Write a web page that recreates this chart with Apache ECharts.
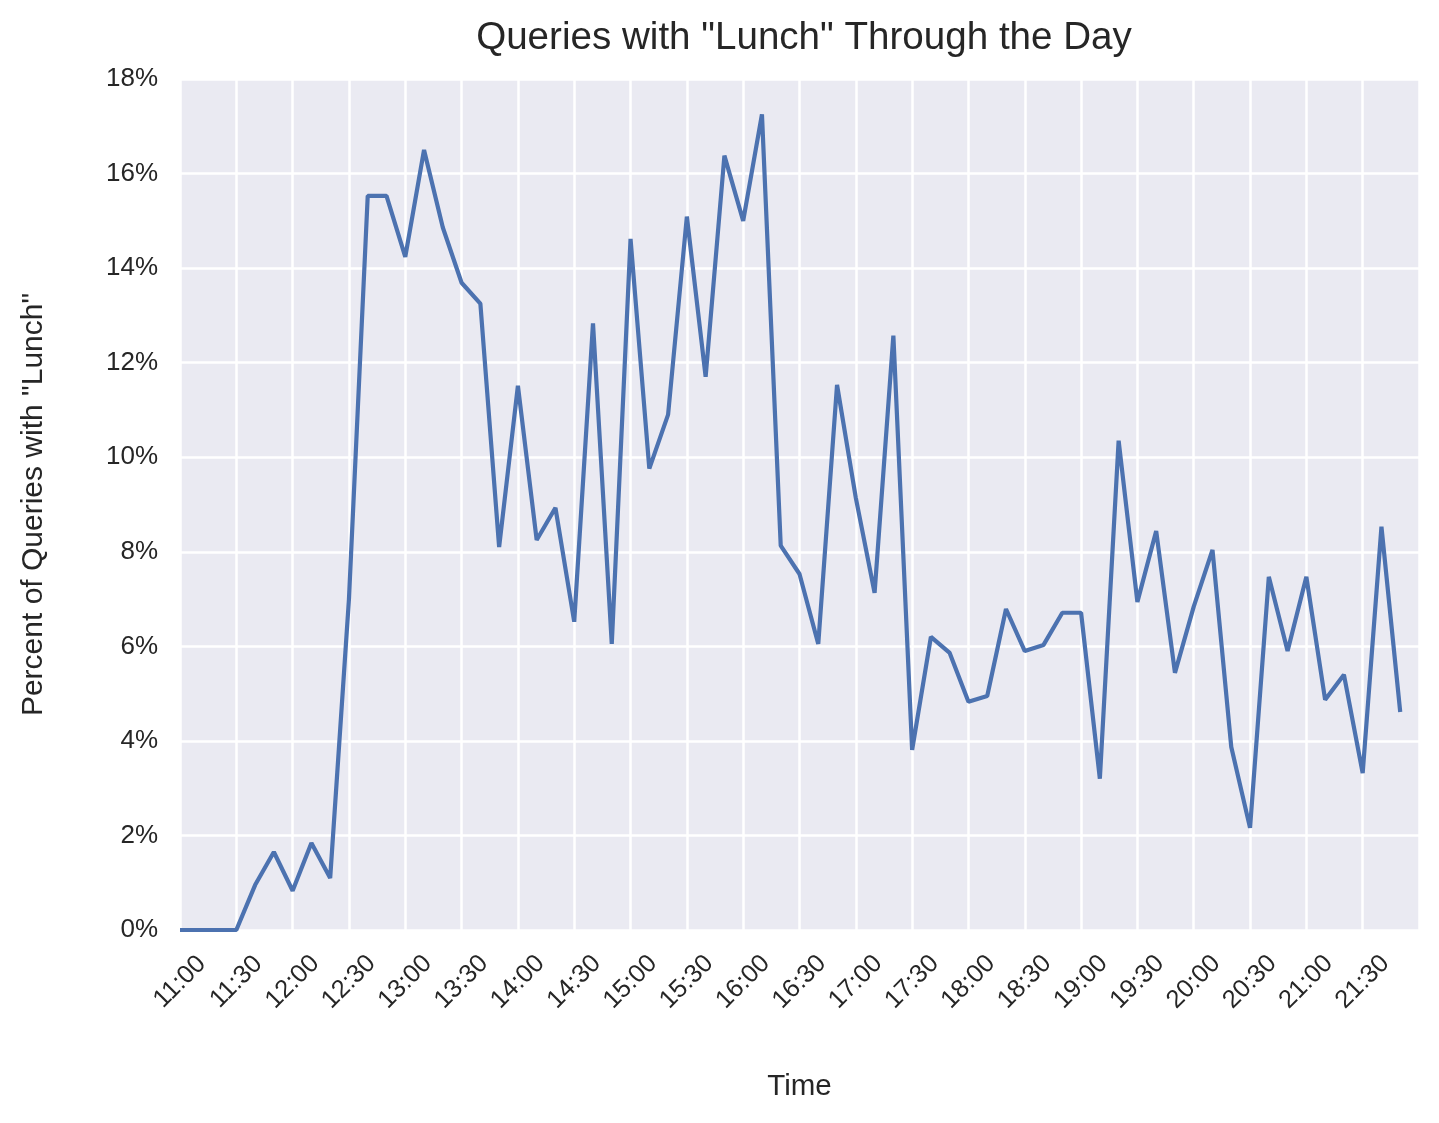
<!DOCTYPE html>
<html>
<head>
<meta charset="utf-8">
<title>Queries with "Lunch" Through the Day</title>
<script src="https://cdn.jsdelivr.net/npm/echarts@6/dist/echarts.min.js"></script>
<style>
  html, body { margin: 0; padding: 0; background: #ffffff; }
  #chart { width: 1439px; height: 1123px; }
</style>
</head>
<body>
<div id="chart"></div>
<script>
// time of day, every 10 minutes
const times = [
  '11:00','11:10','11:20','11:30','11:40','11:50',
  '12:00','12:10','12:20','12:30','12:40','12:50',
  '13:00','13:10','13:20','13:30','13:40','13:50',
  '14:00','14:10','14:20','14:30','14:40','14:50',
  '15:00','15:10','15:20','15:30','15:40','15:50',
  '16:00','16:10','16:20','16:30','16:40','16:50',
  '17:00','17:10','17:20','17:30','17:40','17:50',
  '18:00','18:10','18:20','18:30','18:40','18:50',
  '19:00','19:10','19:20','19:30','19:40','19:50',
  '20:00','20:10','20:20','20:30','20:40','20:50',
  '21:00','21:10','21:20','21:30','21:40','21:50'
];

// percent of queries containing "lunch"
const lunchPct = [
  0, 0, 0, 0, 0.95, 1.65,
  0.83, 1.84, 1.10, 7.0, 15.53, 15.53,
  14.24, 16.5, 14.86, 13.69, 13.25, 8.1,
  11.51, 8.25, 8.93, 6.52, 12.83, 6.05,
  14.62, 9.76, 10.9, 15.09, 11.7, 16.38,
  15.0, 17.25, 8.13, 7.53, 6.05, 11.53,
  9.14, 7.13, 12.57, 3.81, 6.2, 5.86,
  4.83, 4.95, 6.79, 5.9, 6.03, 6.71,
  6.71, 3.2, 10.35, 6.94, 8.44, 5.44,
  6.84, 8.04, 3.87, 2.16, 7.47, 5.9,
  7.47, 4.87, 5.4, 3.32, 8.53, 4.61
];

const yTicks = ['0%','2%','4%','6%','8%','10%','12%','14%','16%','18%'];

function toMinutes(t) {
  const p = t.split(':');
  return (+p[0]) * 60 + (+p[1]);
}
function fmtTime(m) {
  const h = Math.floor(m / 60), mm = m % 60;
  return h + ':' + (mm < 10 ? '0' + mm : mm);
}

const chart = echarts.init(document.getElementById('chart'));
const font = 'Liberation Sans, Arial, sans-serif';

const option = {
  backgroundColor: '#ffffff',
  animation: false,
  title: {
    text: 'Queries with "Lunch" Through the Day',
    left: 799,
    textAlign: 'center',
    top: 14,
    textStyle: { fontFamily: font, fontSize: 38.6, fontWeight: 'normal', color: '#262626' }
  },
  grid: {
    left: 180, right: 20, top: 79, bottom: 193,
    show: true, backgroundColor: '#EAEAF2', borderWidth: 0
  },
  xAxis: {
    type: 'value',
    min: toMinutes('11:00'),
    max: toMinutes('22:00'),
    interval: 30,
    name: 'Time',
    nameLocation: 'middle',
    nameGap: 142,
    nameTextStyle: { fontFamily: font, fontSize: 29.5, color: '#262626' },
    axisLine: { show: false },
    axisTick: { show: false },
    splitLine: { show: true, lineStyle: { color: '#ffffff', width: 2.5 } },
    axisLabel: {
      rotate: 45,
      margin: 52,
      align: 'center',
      verticalAlign: 'middle',
      showMaxLabel: false,
      fontFamily: font, fontSize: 25.5, color: '#262626',
      formatter: v => fmtTime(v)
    }
  },
  yAxis: {
    type: 'value',
    min: 0, max: 18, interval: 2,
    name: 'Percent of Queries with "Lunch"',
    nameLocation: 'middle',
    nameGap: 131,
    nameTextStyle: { fontFamily: font, fontSize: 30, color: '#262626' },
    axisLine: { show: false },
    axisTick: { show: false },
    splitLine: { show: true, lineStyle: { color: '#ffffff', width: 2.5 } },
    axisLabel: {
      margin: 22,
      fontFamily: font, fontSize: 26, color: '#262626',
      formatter: v => yTicks[Math.round(v / 2)]
    }
  },
  series: [{
    type: 'line',
    data: times.map((t, i) => [toMinutes(t), lunchPct[i]]),
    showSymbol: false,
    lineStyle: { color: '#4C72B0', width: 4.2 },
    itemStyle: { color: '#4C72B0' }
  }]
};

chart.setOption(option);
</script>
</body>
</html>
